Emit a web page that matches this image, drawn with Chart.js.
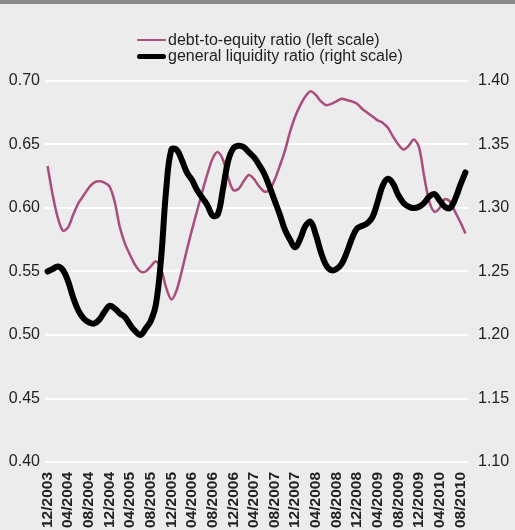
<!DOCTYPE html>
<html>
<head>
<meta charset="utf-8">
<script src="https://cdn.jsdelivr.net/npm/chart.js@4.4.0/dist/chart.umd.min.js"></script>
<style>
  html, body { margin: 0; padding: 0; overflow: hidden; background: #ebeceb; }
  #topbar { position: absolute; left: 0; top: 0; width: 515px; height: 4px; background: #8a8a8a; }
  #wrap { position: absolute; left: 0; top: 0; width: 515px; height: 532px; }
  #legend { position: absolute; left: 137px; top: 32px; font-family: "Liberation Sans", Arial, sans-serif; font-size: 16px; color: #222; z-index: 2; }
  .row { display: flex; align-items: center; height: 16px; white-space: nowrap; }
  .swatch { display: inline-block; width: 29px; margin-right: 2px; border-radius: 3px; }
</style>
</head>
<body>
<div id="wrap"><canvas id="ratioChart"></canvas></div>
<div id="topbar"></div>
<div id="legend"></div>
<script>
// monthly, 12/2003 .. 09/2010
const months = [];
for (let i = 0; i < 82; i++) {
    const m = ((11 + i) % 12) + 1;
    const y = 2003 + Math.floor((11 + i) / 12);
    months.push(String(m).padStart(2, '0') + '/' + y);
}

const debtToEquity = [
    0.633, 0.610, 0.592, 0.582, 0.585, 0.595, 0.604, 0.610, 0.616, 0.620,
    0.621, 0.620, 0.617, 0.605, 0.585, 0.572, 0.563, 0.555, 0.550, 0.550,
    0.554, 0.558, 0.552, 0.537, 0.528, 0.535, 0.550, 0.567, 0.583, 0.598,
    0.613, 0.627, 0.639, 0.644, 0.638, 0.624, 0.614, 0.615, 0.621, 0.626,
    0.623, 0.617, 0.613, 0.614, 0.622, 0.633, 0.645, 0.660, 0.672, 0.681,
    0.688, 0.692, 0.689, 0.684, 0.681, 0.682, 0.684, 0.686, 0.685, 0.684,
    0.682, 0.678, 0.675, 0.672, 0.669, 0.667, 0.663, 0.656, 0.650, 0.646,
    0.649, 0.654, 0.648, 0.625, 0.605, 0.597, 0.600, 0.607, 0.605, 0.597,
    0.589, 0.580
];

const generalLiquidity = [
    1.250, 1.252, 1.254, 1.251, 1.242, 1.229, 1.219, 1.213, 1.210, 1.209,
    1.212, 1.218, 1.223, 1.221, 1.217, 1.214, 1.208, 1.203, 1.200, 1.205,
    1.211, 1.224, 1.260, 1.315, 1.346, 1.346, 1.338, 1.328, 1.322, 1.314,
    1.308, 1.302, 1.294, 1.295, 1.315, 1.337, 1.347, 1.349, 1.348, 1.344,
    1.340, 1.334, 1.327, 1.317, 1.306, 1.295, 1.283, 1.275, 1.269, 1.276,
    1.286, 1.289, 1.279, 1.265, 1.255, 1.251, 1.252, 1.256, 1.265, 1.276,
    1.284, 1.286, 1.288, 1.293, 1.305, 1.318, 1.323, 1.319, 1.310, 1.304,
    1.301, 1.300, 1.301, 1.304, 1.309, 1.311, 1.306, 1.301, 1.300, 1.307,
    1.318, 1.328
];

const leftTicks = [0.40, 0.45, 0.50, 0.55, 0.60, 0.65, 0.70];
const rightTicks = [1.10, 1.15, 1.20, 1.25, 1.30, 1.35, 1.40];

const pink = '#a94d7d';
const ink = '#222222';
const font = '"Liberation Sans", Arial, sans-serif';

const datasets = [
    {
        label: 'debt-to-equity ratio (left scale)',
        data: debtToEquity,
        yAxisID: 'y',
        borderColor: pink,
        borderWidth: 2.5,
        tension: 0.3,
        pointRadius: 0,
        order: 1
    },
    {
        label: 'general liquidity ratio (right scale)',
        data: generalLiquidity,
        yAxisID: 'y1',
        borderColor: '#000000',
        borderWidth: 6,
        tension: 0.4,
        pointRadius: 0,
        borderCapStyle: 'round',
        borderJoinStyle: 'round',
        order: 0
    }
];

// legend as html, rows left aligned like the original
const legend = document.getElementById('legend');
datasets.forEach(ds => {
    const row = document.createElement('div');
    row.className = 'row';
    const sw = document.createElement('span');
    sw.className = 'swatch';
    sw.style.height = (ds.borderWidth === 6 ? 5 : 2.5) + 'px';
    sw.style.background = ds.borderColor;
    const txt = document.createElement('span');
    txt.textContent = ds.label;
    row.appendChild(sw);
    row.appendChild(txt);
    legend.appendChild(row);
});

const ctx = document.getElementById('ratioChart').getContext('2d');
new Chart(ctx, {
    type: 'line',
    data: { labels: months, datasets: datasets },
    options: {
        responsive: true,
        maintainAspectRatio: false,
        animation: false,
        layout: { padding: { top: 81, left: 0, right: 0, bottom: 0 } },
        plugins: { legend: { display: false }, tooltip: { enabled: false } },
        scales: {
            x: {
                type: 'category',
                offset: true,
                grid: { display: false, drawTicks: false },
                border: { display: false },
                afterFit: axis => { axis.height = 70; },
                ticks: {
                    autoSkip: false,
                    minRotation: 90,
                    maxRotation: 90,
                    padding: 10,
                    color: ink,
                    font: { family: font, size: 15.5, weight: 'bold' },
                    callback: (v, i) => (i % 4 === 0 ? months[i] : '')
                }
            },
            y: {
                position: 'left',
                min: 0.40,
                max: 0.70,
                afterFit: axis => { axis.width = 45; },
                afterBuildTicks: axis => { axis.ticks = leftTicks.map(v => ({ value: v })); },
                grid: { color: '#ffffff', lineWidth: 2, drawTicks: false },
                border: { display: false },
                ticks: {
                    padding: 5,
                    color: ink,
                    font: { family: font, size: 16 },
                    callback: v => Number(v).toFixed(2)
                }
            },
            y1: {
                position: 'right',
                min: 1.10,
                max: 1.40,
                afterFit: axis => { axis.width = 47; },
                afterBuildTicks: axis => { axis.ticks = rightTicks.map(v => ({ value: v })); },
                grid: { display: false, drawTicks: false },
                border: { display: false },
                ticks: {
                    padding: 10,
                    color: ink,
                    font: { family: font, size: 16 },
                    callback: v => Number(v).toFixed(2)
                }
            }
        }
    }
});
</script>
</body>
</html>
